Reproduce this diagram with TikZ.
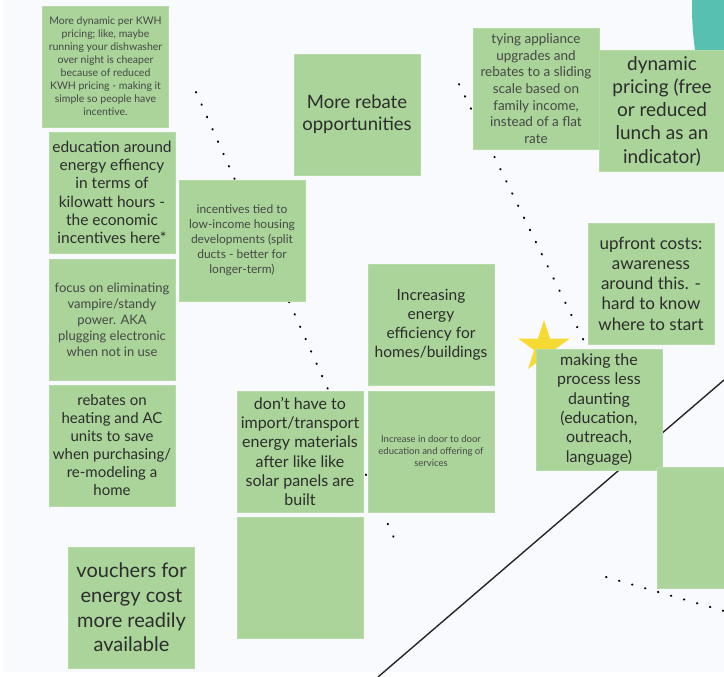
\documentclass[tikz,border=0pt]{standalone}
\usepackage{fontspec}
\setmainfont{Lato}
\usetikzlibrary{shapes.geometric}

\definecolor{notegreen}{RGB}{170,212,154}
\definecolor{boardbg}{RGB}{249,250,253}
\definecolor{tealblob}{RGB}{88,192,176}
\definecolor{stargold}{RGB}{247,217,52}
\definecolor{inkgrey}{RGB}{45,45,45}
\definecolor{smallgrey}{RGB}{70,72,70}

\newcommand{\fsz}[2]{\fontsize{#1}{#2}\selectfont}

\begin{document}
\begin{tikzpicture}[x=1pt, y=-1pt,
		note/.style={rectangle, fill=notegreen, draw=notegreen!85!white, line width=0.6pt,
			minimum width=126pt, minimum height=121pt, inner sep=0pt, align=center, text=inkgrey},
		small/.style={note, text=smallgrey},
		dots/.style={black, line width=2pt, line cap=round, dash pattern=on 0.6pt off 12.9pt},
		divider/.style={black!85, line width=1.4pt},
		starmark/.style={star, star points=5, star point ratio=2.618, fill=stargold, minimum size=54pt, inner sep=0pt}]
		\useasboundingbox (0,0) rectangle (724,677);
		\clip (0,0) rectangle (724,677);
		\fill[white] (0,0) rectangle (724,677);
		\fill[boardbg] (3,0) rectangle (724,672);
		\fill[tealblob] (992,7) circle (300);
		
		% free ends of the lines
		\coordinate (d1a) at (196,92);
		\coordinate (d1b) at (394,538);
		\coordinate (d2a) at (459,84);
		\coordinate (d2b) at (584,341);
		\coordinate (d3a) at (606,577);
		\coordinate (d3b) at (724,611);
		\coordinate (l1a) at (724,380);
		\coordinate (l1b) at (378,677);
		
		\draw[dots] (d1a) -- (d1b);
		\draw[dots] (d2a) -- (d2b);
		\draw[dots] (d3a) -- (d3b);
		\draw[divider] (l1a) -- (l1b);
		\node[starmark] (0) at (544,347) {};
		
		\node[small, font=\fsz{10.5}{13}] (1) at (105.5,66.5) {More dynamic per KWH\\pricing; like, maybe\\running your dishwasher\\over night is cheaper\\because of reduced\\KWH pricing - making it\\simple so people have\\incentive.};
		\node[note, font=\fsz{15.5}{18.3}] (2) at (112,192.5) {education around\\energy effiency\\in terms of\\kilowatt hours -\\the economic\\incentives here*};
		\node[small, font=\fsz{13}{16}] (3) at (112,319.5) {focus on eliminating\\vampire/standy\\power. AKA\\plugging electronic\\when not in use};
		\node[note, font=\fsz{15}{18}] (4) at (112,445.5) {rebates on\\heating and AC\\units to save\\when purchasing/\\re-modeling a\\home};
		\node[note, font=\fsz{20}{24.7}] (5) at (131.5,607.5) {vouchers for\\energy cost\\more readily\\available};
		\node[small, font=\fsz{12}{15}] (6) at (242,240.5) {incentives tied to\\low-income housing\\developments (split\\ducts - better for\\longer-term)};
		\node[note, font=\fsz{18.5}{22}] (7) at (357,114.5) {More rebate\\opportunities};
		\node[note, font=\fsz{15.5}{19}] (8) at (431,325) {Increasing\\energy\\efficiency for\\homes/buildings};
		\node[note, font=\fsz{16}{19.3}] (9) at (300,451.5) {don't have to\\import/transport\\energy materials\\after like like\\solar panels are\\built};
		\node[small, font=\fsz{9.5}{12}] (10) at (431,451.5) {Increase in door to door\\education and offering of\\services};
		\node[note] (11) at (300,577.5) {};
		\node[small, font=\fsz{13.5}{16.7}] (12) at (536,88.5) {tying appliance\\upgrades and\\rebates to a sliding\\scale based on\\family income,\\instead of a flat\\rate};
		\node[note, font=\fsz{19}{23.3}] (13) at (662,111) {dynamic\\pricing (free\\or reduced\\lunch as an\\indicator)};
		\node[note, font=\fsz{17}{20.3}] (14) at (651,283.5) {upfront costs:\\awareness\\around this. -\\hard to know\\where to start};
		\node[note, font=\fsz{16}{19.3}] (15) at (599,409.5) {making the\\process less\\daunting\\(education,\\outreach,\\language)};
		\node[note] (16) at (720,527.5) {};
		
	\end{tikzpicture}
\end{document}
